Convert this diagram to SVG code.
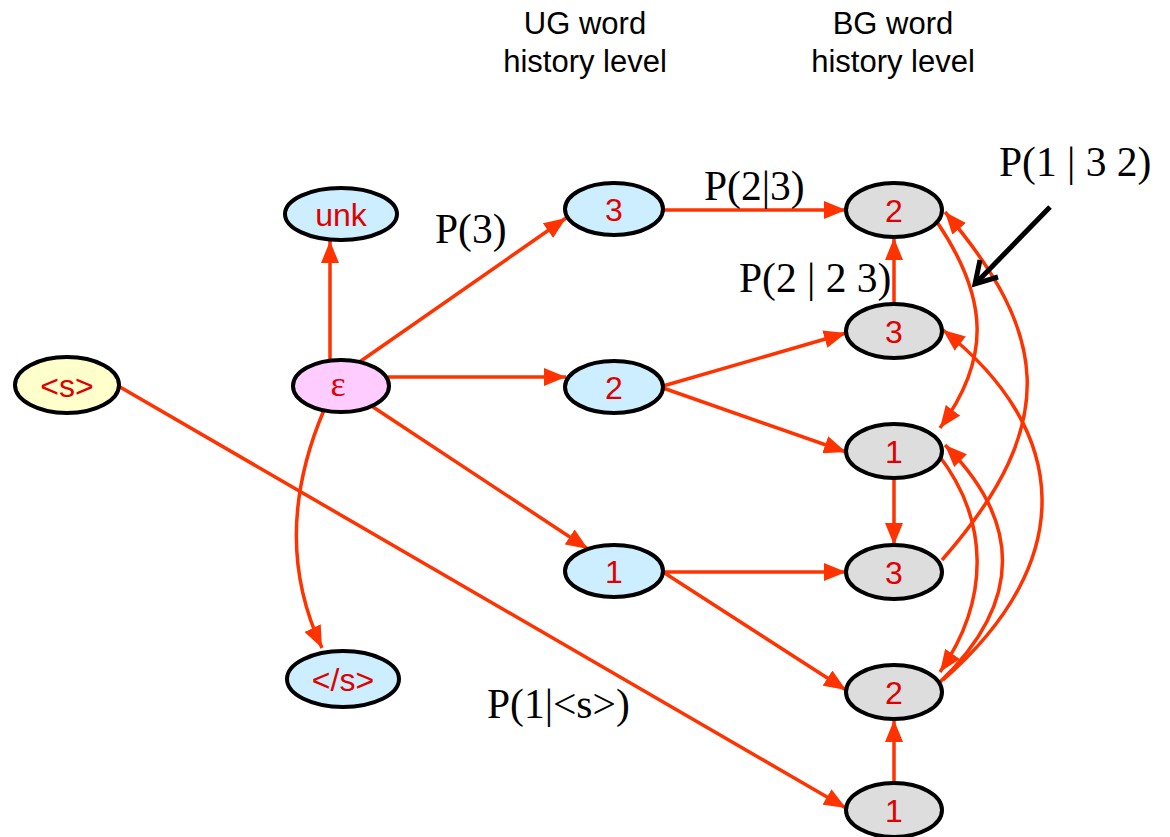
<svg xmlns="http://www.w3.org/2000/svg" width="1170" height="837" viewBox="0 0 1170 837">
<style>
.n{stroke:#000;stroke-width:4}
.ug{fill:#cceeff}
.bg{fill:#dddddd}
.t{font-family:"Liberation Sans",Arial,sans-serif;font-size:32px;fill:#e00000;text-anchor:middle}
.e{font-family:"Liberation Serif","Times New Roman",serif;font-size:36px;fill:#e00000;text-anchor:middle}
.h{font-family:"Liberation Sans",Arial,sans-serif;font-size:31px;fill:#000;text-anchor:middle}
.p{font-family:"Liberation Serif","Times New Roman",serif;font-size:41.5px;fill:#000}
.c{fill:none;stroke:#ff3300;stroke-width:3.5;marker-end:url(#ah)}
</style>
<defs>
<marker id="ah" markerUnits="userSpaceOnUse" markerWidth="22" markerHeight="18" refX="22" refY="9" orient="auto">
<path d="M0,0 L22,9 L0,18 z" fill="#ff3300"/>
</marker>
</defs>
<g id="headers">
<text class="h" x="585" y="34">UG word</text>
<text class="h" x="585" y="72">history level</text>
<text class="h" x="893" y="34">BG word</text>
<text class="h" x="893" y="72">history level</text>
</g>
<g id="connectors">
<path class="c" d="M330,360 L330,241"/>
<path class="c" d="M358,363 L566,218"/>
<path class="c" d="M388,377 L566,377"/>
<path class="c" d="M370,405 L588,549"/>
<path class="c" d="M324,410 C290,490 285,570 322,648"/>
<path class="c" d="M120,387 L846,808"/>
<path class="c" d="M663,210 L846,210"/>
<path class="c" d="M663,386 L846,333"/>
<path class="c" d="M663,388 L846,452"/>
<path class="c" d="M663,572 L846,572"/>
<path class="c" d="M663,572 L846,690"/>
<path class="c" d="M894,304 L894,238"/>
<path class="c" d="M894,478 L894,545"/>
<path class="c" d="M894,783 L894,720"/>
<path class="c" d="M937,222 C990,300 990,360 940,428"/>
<path class="c" d="M942,560 C1065,420 1045,330 945,212"/>
<path class="c" d="M943,680 C1080,560 1070,430 943,330"/>
<path class="c" d="M937,453 C990,520 990,600 940,672"/>
<path class="c" d="M940,682 C1025,600 1020,520 945,445"/>
</g>
<g id="pointer">
<line x1="1050" y1="207" x2="978" y2="281" stroke="#000" stroke-width="5"/>
<polyline points="980,260 975,284 998,277" fill="none" stroke="#000" stroke-width="5" stroke-linejoin="miter"/>
</g>
<g id="labels">
<text class="p" x="435" y="243">P(3)</text>
<text class="p" x="704" y="200">P(2|3)</text>
<text class="p" x="999" y="176">P(1 | 3 2)</text>
<text class="p" x="739" y="292">P(2 | 2 3)</text>
<text class="p" x="487" y="718">P(1|&lt;s&gt;)</text>
</g>
<g id="node-s"><ellipse class="n" cx="67" cy="385" rx="52" ry="28" fill="#ffffcc"/><text class="t" x="67" y="397">&lt;s&gt;</text></g>
<g id="node-eps"><ellipse class="n" cx="341" cy="386" rx="48" ry="26" fill="#ffccff"/><text class="e" x="338" y="396">ε</text></g>
<g id="node-unk"><ellipse class="n ug" cx="341" cy="214" rx="56" ry="26"/><text class="t" x="341" y="226">unk</text></g>
<g id="node-end"><ellipse class="n ug" cx="343" cy="679" rx="56" ry="28"/><text class="t" x="343" y="691">&lt;/s&gt;</text></g>
<g id="node-ug3"><ellipse class="n ug" cx="614" cy="209" rx="49" ry="26"/><text class="t" x="614" y="221">3</text></g>
<g id="node-ug2"><ellipse class="n ug" cx="614" cy="387" rx="49" ry="26"/><text class="t" x="614" y="399">2</text></g>
<g id="node-ug1"><ellipse class="n ug" cx="614" cy="571" rx="49" ry="26"/><text class="t" x="614" y="583">1</text></g>
<g id="node-bg2a"><ellipse class="n bg" cx="894" cy="210" rx="48" ry="27"/><text class="t" x="894" y="222">2</text></g>
<g id="node-bg3a"><ellipse class="n bg" cx="894" cy="331" rx="48" ry="27"/><text class="t" x="894" y="343">3</text></g>
<g id="node-bg1a"><ellipse class="n bg" cx="894" cy="451" rx="48" ry="27"/><text class="t" x="894" y="463">1</text></g>
<g id="node-bg3b"><ellipse class="n bg" cx="894" cy="572" rx="48" ry="27"/><text class="t" x="894" y="584">3</text></g>
<g id="node-bg2b"><ellipse class="n bg" cx="894" cy="692" rx="48" ry="27"/><text class="t" x="894" y="704">2</text></g>
<g id="node-bg1b"><ellipse class="n bg" cx="894" cy="810" rx="48" ry="27"/><text class="t" x="894" y="822">1</text></g>
</svg>
